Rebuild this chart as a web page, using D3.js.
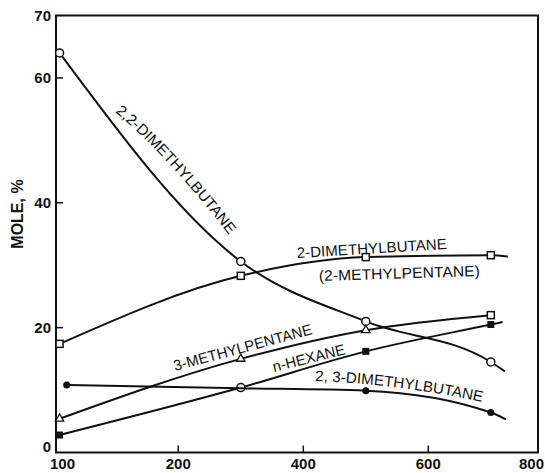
<!DOCTYPE html>
<html>
<head>
<meta charset="utf-8">
<script src="https://cdn.jsdelivr.net/npm/d3@7"></script>
<style>
  body { margin: 0; background: #fff; }
  svg text { font-family: "Liberation Sans", Arial, sans-serif; fill: #111; }
</style>
</head>
<body>
<div id="chart"></div>
<script>
// temperatures (x) and mole % (y) for each curve
const xDmb22 = [100, 300, 500, 700, 730];
const yDmb22 = [64.0, 30.6, 21.0, 14.5, 13.0];
const mDmb22 = ["oc", "oc", "oc", "oc", null];

const xDmb2 = [100, 300, 500, 700, 736];
const yDmb2 = [17.4, 28.3, 31.3, 31.6, 31.4];
const mDmb2 = ["os", "os", "os", "os", null];

const xMp3 = [100, 300, 500, 700];
const yMp3 = [5.4, 15.0, 19.6, 22.0];
const mMp3 = ["ot", "ot", "ot", "os"];

const xHex = [100, 300, 500, 700, 725];
const yHex = [2.8, 10.4, 16.2, 20.5, 20.9];
const mHex = ["fs", "oc", "fs", "fs", null];

const xDmb23 = [106, 300, 500, 700, 732];
const yDmb23 = [10.8, 10.3, 9.9, 6.4, 5.3];
const mDmb23 = ["fc", null, "fc", "fc", null];

const xTicks = [100, 200, 400, 600, 800];
const yTicks = [0, 20, 40, 60, 70];

const labels = ["2,2-DIMETHYLBUTANE", "2-DIMETHYLBUTANE", "(2-METHYLPENTANE)",
                "3-METHYLPENTANE", "n-HEXANE", "2, 3-DIMETHYLBUTANE"];

const W = 545, H = 473;
const svg = d3.select("#chart").append("svg")
    .attr("width", W).attr("height", H);

// the printed axis is not evenly spaced at its ends
const x = d3.scaleLinear().domain([97, 200, 700, 800]).range([56, 178.3, 490.8, 538]);
const y = d3.scaleLinear().domain([0, 70]).range([452.5, 15.5]);

// frame
svg.append("rect")
    .attr("x", 56).attr("y", y(70))
    .attr("width", 538 - 56).attr("height", y(0) - y(70))
    .attr("fill", "none").attr("stroke", "#111").attr("stroke-width", 2);

// ticks
svg.selectAll(".xt").data([200, 400, 600]).enter().append("line")
    .attr("x1", d => x(d)).attr("x2", d => x(d))
    .attr("y1", y(0)).attr("y2", y(0) - 7)
    .attr("stroke", "#111").attr("stroke-width", 1.5);
svg.selectAll(".yt").data([20, 40, 60]).enter().append("line")
    .attr("x1", 56).attr("x2", 63)
    .attr("y1", d => y(d)).attr("y2", d => y(d))
    .attr("stroke", "#111").attr("stroke-width", 1.5);

svg.selectAll(".xl").data(xTicks).enter().append("text")
    .attr("x", d => d == 100 ? x(d) + 3 : x(d))
    .attr("y", 469)
    .attr("text-anchor", d => d == 800 ? "end" : "middle")
    .attr("dx", d => d == 800 ? 6 : 0)
    .style("font-size", "15px").style("font-weight", "bold")
    .text(d => d);
svg.selectAll(".yl").data(yTicks).enter().append("text")
    .attr("x", 51)
    .attr("y", d => d == 0 ? y(d) - 1 : y(d) + 5.5)
    .attr("text-anchor", "end")
    .style("font-size", "15px").style("font-weight", "bold")
    .text(d => d);

svg.append("text")
    .attr("transform", "translate(23,214) rotate(-90)")
    .attr("text-anchor", "middle")
    .style("font-size", "16px").style("font-weight", "bold")
    .text("MOLE, %");

// curves
const line = d3.line().x(d => x(d[0])).y(d => y(d[1])).curve(d3.curveMonotoneX);
const series = [
  [xDmb22, yDmb22, mDmb22],
  [xDmb2, yDmb2, mDmb2],
  [xMp3, yMp3, mMp3],
  [xHex, yHex, mHex],
  [xDmb23, yDmb23, mDmb23]
];

series.forEach(function(s) {
  const pts = s[0].map((v, i) => [v, s[1][i], s[2][i]]);
  svg.append("path")
      .attr("d", line(pts))
      .attr("fill", "none").attr("stroke", "#111").attr("stroke-width", 2);

  const g = svg.append("g");
  pts.filter(p => p[2]).forEach(function(p) {
    const cx = x(p[0]), cy = y(p[1]);
    if (p[2] == "oc") {
      g.append("circle").attr("cx", cx).attr("cy", cy).attr("r", 4)
          .attr("fill", "#fff").attr("stroke", "#111").attr("stroke-width", 1.5);
    } else if (p[2] == "fc") {
      g.append("circle").attr("cx", cx).attr("cy", cy).attr("r", 3.5)
          .attr("fill", "#111");
    } else if (p[2] == "os") {
      g.append("rect").attr("x", cx - 3.5).attr("y", cy - 3.5)
          .attr("width", 7).attr("height", 7)
          .attr("fill", "#fff").attr("stroke", "#111").attr("stroke-width", 1.5);
    } else if (p[2] == "fs") {
      g.append("rect").attr("x", cx - 3.5).attr("y", cy - 3.5)
          .attr("width", 7).attr("height", 7)
          .attr("fill", "#111");
    } else if (p[2] == "ot") {
      g.append("path")
          .attr("d", d3.symbol(d3.symbolTriangle, 30)())
          .attr("transform", "translate(" + cx + "," + cy + ")")
          .attr("fill", "#fff").attr("stroke", "#111").attr("stroke-width", 1.3);
    }
  });
});

// curve labels set along short guide paths
const guides = [
  "M115,112 Q166,154 229,235",
  "M297,258 L447,249",
  "M319,281 L480,276",
  "M175,371 L313,334",
  "M274,372 L346,354",
  "M315,381 Q400,384 482,402"
];
const defs = svg.append("defs");
labels.forEach(function(t, i) {
  const p = defs.append("path").attr("id", "g" + i).attr("d", guides[i]);
  const len = p.node().getTotalLength();
  svg.append("text")
      .style("font-size", "15px")
      .append("textPath")
      .attr("href", "#g" + i)
      .attr("textLength", len)
      .attr("lengthAdjust", "spacingAndGlyphs")
      .text(t);
});
</script>
</body>
</html>
